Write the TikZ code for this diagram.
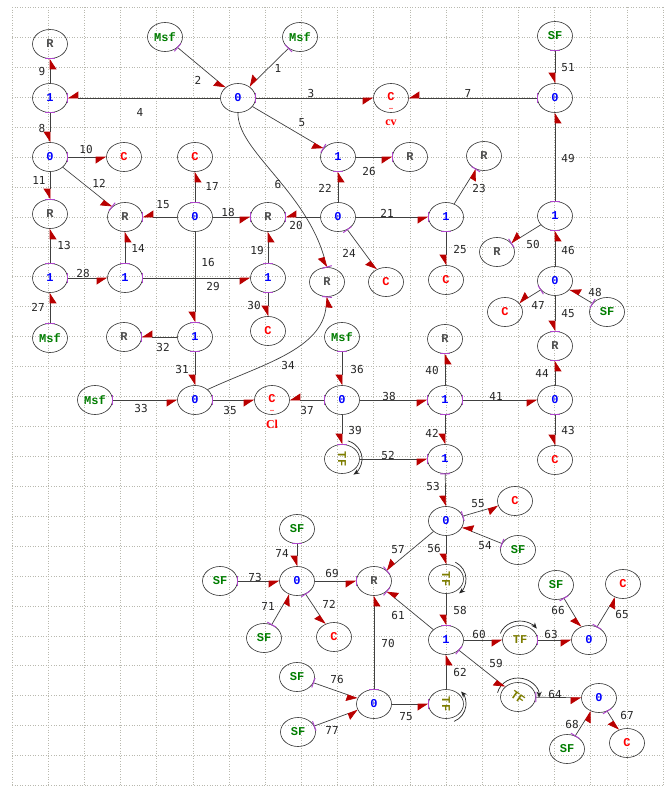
\documentclass[tikz,border=0pt]{standalone}
\usepackage{fontspec}
\setmainfont{Liberation Serif}
\newfontfamily\nodefont{Liberation Mono}
\newfontfamily\numfont{DejaVu Sans Mono}
\usetikzlibrary{arrows.meta,decorations.markings,calc,shapes.geometric}
\definecolor{bondred}{RGB}{185,0,0}
\definecolor{strokecol}{RGB}{175,70,205}
\definecolor{grn}{RGB}{0,125,0}
\definecolor{olv}{RGB}{125,125,0}
\definecolor{gridc}{RGB}{185,185,175}
\tikzset{
 bn/.style={ellipse, draw=black!80, line width=0.6pt, minimum width=35pt, minimum height=29pt, inner sep=0pt, font=\nodefont\bfseries\fontsize{12}{12}\selectfont},
 zn/.style={bn,text=blue},
 rn/.style={bn,text=black!70},
 cn/.style={bn,text=red},
 sn/.style={bn,text=grn},
 tn/.style={bn,text=olv},
 bond/.style={draw=black!75, line width=0.7pt, -{Triangle[harpoon,swap,length=10pt,width=13pt,color=bondred]}},
 csA/.style={postaction={decorate,decoration={markings,mark=at position 0 with {\draw[strokecol,line width=1pt,-] (0,-5pt)--(0,5pt);}}}},
 csB/.style={postaction={decorate,decoration={markings,mark=at position 0.999 with {\draw[strokecol,line width=1pt,-] (0,-5pt)--(0,5pt);}}}},
 lb/.style={font=\numfont\fontsize{11}{11}\selectfont, text=black!85, inner sep=0pt},
 gridl/.style={gridc, dotted, line width=0.6pt},
 tfarc/.style={black!85, line width=0.7pt, -{Stealth[length=6pt,width=5pt]}},
 capname/.style={font=\bfseries\fontsize{12}{12}\selectfont, text=red, inner sep=0pt},
 capdots/.style={font=\bfseries\fontsize{8}{8}\selectfont, text=red, inner sep=0pt},
}
\begin{document}
\begin{tikzpicture}[x=1pt,y=-1pt]
\fill[white] (0,0) rectangle (668,787);
\useasboundingbox (0,0) rectangle (668,787);
% grid
\foreach \i in {0,...,18} \draw[gridl] ({12+36.17*\i},7) -- ({12+36.17*\i},785.5);
\foreach \j in {0,...,26} \draw[gridl] (12,{7.5+29.92*\j}) -- (663,{7.5+29.92*\j});
% nodes
\node[sn] (msfA) at (165,37) {Msf};
\node[sn] (msfB) at (300,37) {Msf};
\node[sn] (sfT) at (555,36) {SF};
\node[rn] (rTL) at (50,44) {R};
\node[zn] (oneA) at (50,98) {1};
\node[zn] (zA) at (238,98) {0};
\node[cn] (cv) at (391,98) {\raisebox{3pt}{C}};
\node[capdots] (cvd) at (391,109) {..};
\node[capname] (cvn) at (391,123) {cv};
\node[zn] (zB) at (555,98) {0};
\node[zn] (zC) at (50,157) {0};
\node[cn] (cA) at (124,157) {C};
\node[cn] (cB) at (195,157) {C};
\node[zn] (oneB) at (338,157) {1};
\node[rn] (rA) at (410,157) {R};
\node[rn] (rB) at (484,156) {R};
\node[rn] (rC) at (50,214) {R};
\node[rn] (rD) at (125,217) {R};
\node[zn] (zD) at (195,217) {0};
\node[rn] (rE) at (268,217) {R};
\node[zn] (zE) at (338,217) {0};
\node[zn] (oneC) at (446,217) {1};
\node[zn] (oneD) at (555,216) {1};
\node[zn] (oneE) at (50,278) {1};
\node[zn] (oneF) at (125,278) {1};
\node[zn] (oneG) at (268,278) {1};
\node[rn] (rF) at (327,282) {R};
\node[cn] (cC) at (386,282) {C};
\node[cn] (cD) at (446,280) {C};
\node[rn] (rG) at (497,252) {R};
\node[zn] (zF) at (555,281) {0};
\node[cn] (cE) at (505,312) {C};
\node[sn] (sfA) at (607,312) {SF};
\node[rn] (rH) at (555,346) {R};
\node[sn] (msfC) at (50,338) {Msf};
\node[rn] (rI) at (124,337) {R};
\node[zn] (oneH) at (195,337) {1};
\node[cn] (cF) at (268,331) {C};
\node[sn] (msfD) at (342,337) {Msf};
\node[rn] (rJ) at (445,339) {R};
\node[sn] (msfE) at (95,400) {Msf};
\node[zn] (zG) at (195,400) {0};
\node[cn] (cl) at (272,400) {\raisebox{3pt}{C}};
\node[capdots] (cld) at (272,411) {..};
\node[capname] (cln) at (272,424) {Cl};
\node[zn] (zH) at (342,400) {0};
\node[zn] (oneI) at (445,400) {1};
\node[zn] (zI) at (555,400) {0};
\node[tn] (tfA) at (342,459) {\rotatebox{-90}{TF}};
\node[zn] (oneJ) at (445,459) {1};
\node[cn] (cG) at (555,460) {C};
\node[zn] (zJ) at (446,521) {0};
\node[cn] (cH) at (515,501) {C};
\node[sn] (sfB) at (518,550) {SF};
\node[sn] (sfC) at (297,529) {SF};
\node[sn] (sfD) at (220,581) {SF};
\node[zn] (zK) at (297,581) {0};
\node[rn] (rK) at (374,581) {R};
\node[tn] (tfB) at (446,579) {\rotatebox{-90}{TF}};
\node[sn] (sfE) at (556,585) {SF};
\node[cn] (cI) at (623,584) {C};
\node[sn] (sfF) at (264,638) {SF};
\node[cn] (cJ) at (334,637) {C};
\node[zn] (oneK) at (446,640) {1};
\node[tn] (tfC) at (520,640) {TF};
\node[zn] (zL) at (589,640) {0};
\node[sn] (sfG) at (297,677) {SF};
\node[zn] (zM) at (374,704) {0};
\node[tn] (tfD) at (446,704) {\rotatebox{-90}{TF}};
\node[tn] (tfE) at (518,697) {\rotatebox{-35}{TF}};
\node[zn] (zN) at (599,698) {0};
\node[sn] (sfH) at (298,732) {SF};
\node[sn] (sfI) at (567,749) {SF};
\node[cn] (cK) at (627,743) {C};
% TF modulation arcs
\draw[tfarc] ($(tfA)+(73:20pt and 19pt)$) arc[start angle=73, end angle=-55, x radius=20pt, y radius=19pt];
\draw[tfarc] ($(tfB)+(62:20pt and 19pt)$) arc[start angle=62, end angle=-49, x radius=20pt, y radius=19pt];
\draw[tfarc] ($(tfC)+(160:21pt and 19pt)$) arc[start angle=160, end angle=37, x radius=21pt, y radius=19pt];
\draw[tfarc] ($(tfD)+(-66:20pt and 19pt)$) arc[start angle=-66, end angle=41, x radius=20pt, y radius=19pt];
\draw[tfarc] ($(tfE)+(167:21pt and 19pt)$) arc[start angle=167, end angle=-2, x radius=21pt, y radius=19pt];
% bonds
\draw[bond,csA] (msfB) -- (zA);
\draw[bond,csA] (msfA) -- (zA);
\draw[bond,csA] (zA) -- (cv);
\draw[bond,csB] (zA) -- (oneA);
\draw[bond,csB] (zA) -- (oneB);
\draw[bond,csB] (zA.south) .. controls (237,150) and (305,190) .. (rF.north);
\draw[bond,csA] (zB) -- (cv);
\draw[bond,csA] (oneA) -- (zC);
\draw[bond,csB] (oneA) -- (rTL);
\draw[bond,csA] (zC) -- (cA);
\draw[bond,csB] (zC) -- (rC);
\draw[bond,csB] (zC) -- (rD);
\draw[bond,csA] (oneE) -- (rC);
\draw[bond,csA] (oneF) -- (rD);
\draw[bond,csB] (zD) -- (rD);
\draw[bond,csB] (zD) -- (oneH);
\draw[bond,csA] (zD) -- (cB);
\draw[bond,csB] (zD) -- (rE);
\draw[bond,csA] (oneG) -- (rE);
\draw[bond,csB] (zE) -- (rE);
\draw[bond,csB] (zE) -- (oneC);
\draw[bond,csB] (zE) -- (oneB);
\draw[bond,csB] (oneC) -- (rB);
\draw[bond,csA] (zE) -- (cC);
\draw[bond,csA] (oneC) -- (cD);
\draw[bond,csB] (oneB) -- (rA);
\draw[bond,csA] (msfC) -- (oneE);
\draw[bond,csA] (oneE) -- (oneF);
\draw[bond,csA] (oneF) -- (oneG);
\draw[bond,csA] (oneG) -- (cF);
\draw[bond,csA] (oneH) -- (zG);
\draw[bond,csB] (oneH) -- (rI);
\draw[bond,csA] (msfE) -- (zG);
\draw[bond,csB] (zG.north east) .. controls (260,365) and (322,350) .. (rF.south);
\draw[bond,csA] (zG) -- (cl);
\draw[bond,csA] (msfD) -- (zH);
\draw[bond,csA] (zH) -- (cl);
\draw[bond,csB] (zH) -- (oneI);
\draw[bond,csB] (zH) -- (tfA);
\draw[bond,csB] (oneI) -- (rJ);
\draw[bond,csA] (oneI) -- (zI);
\draw[bond,csA] (oneI) -- (oneJ);
\draw[bond,csA] (zI) -- (cG);
\draw[bond,csB] (zI) -- (rH);
\draw[bond,csB] (zF) -- (rH);
\draw[bond,csB] (zF) -- (oneD);
\draw[bond,csA] (zF) -- (cE);
\draw[bond,csA] (sfA) -- (zF);
\draw[bond,csA] (oneD) -- (zB);
\draw[bond,csB] (oneD) -- (rG);
\draw[bond,csA] (sfT) -- (zB);
\draw[bond,csB] (tfA) -- (oneJ);
\draw[bond,csA] (oneJ) -- (zJ);
\draw[bond,csA] (sfB) -- (zJ);
\draw[bond,csA] (zJ) -- (cH);
\draw[bond] (zJ) -- (tfB);
\draw[bond,csB] (zJ) -- (rK);
\draw[bond,csB] (tfB) -- (oneK);
\draw[bond,csA] (oneK) -- (tfE);
\draw[bond] (oneK) -- (tfC);
\draw[bond,csB] (oneK) -- (rK);
\draw[bond] (tfD) -- (oneK);
\draw[bond,csA] (tfC) -- (zL);
\draw[bond,csA] (tfE) -- (zN);
\draw[bond,csA] (zL) -- (cI);
\draw[bond,csA] (sfE) -- (zL);
\draw[bond,csA] (zN) -- (cK);
\draw[bond,csA] (sfI) -- (zN);
\draw[bond,csB] (zK) -- (rK);
\draw[bond,csA] (zM) -- (rK);
\draw[bond,csA] (sfF) -- (zK);
\draw[bond,csA] (zK) -- (cJ);
\draw[bond,csA] (sfD) -- (zK);
\draw[bond,csA] (sfC) -- (zK);
\draw[bond,csB] (zM) -- (tfD);
\draw[bond,csA] (sfG) -- (zM);
\draw[bond,csA] (sfH) -- (zM);
% bond numbers
\node[lb] (l1) at (278,68) {1};
\node[lb] (l2) at (198,80) {2};
\node[lb] (l3) at (311,93) {3};
\node[lb] (l4) at (140,112) {4};
\node[lb] (l5) at (302,123) {5};
\node[lb] (l6) at (278,184) {6};
\node[lb] (l7) at (468,93) {7};
\node[lb] (l8) at (42,128) {8};
\node[lb] (l9) at (42,71) {9};
\node[lb] (l10) at (86,149) {10};
\node[lb] (l11) at (39,180) {11};
\node[lb] (l12) at (99,183) {12};
\node[lb] (l13) at (64,245) {13};
\node[lb] (l14) at (138,248) {14};
\node[lb] (l15) at (163,205) {15};
\node[lb] (l16) at (208,262) {16};
\node[lb] (l17) at (212,186) {17};
\node[lb] (l18) at (228,212) {18};
\node[lb] (l19) at (257,250) {19};
\node[lb] (l20) at (296,225) {20};
\node[lb] (l21) at (387,213) {21};
\node[lb] (l22) at (325,188) {22};
\node[lb] (l23) at (479,188) {23};
\node[lb] (l24) at (349,253) {24};
\node[lb] (l25) at (460,249) {25};
\node[lb] (l26) at (369,171) {26};
\node[lb] (l27) at (38,307) {27};
\node[lb] (l28) at (83,273) {28};
\node[lb] (l29) at (213,286) {29};
\node[lb] (l30) at (254,305) {30};
\node[lb] (l31) at (182,369) {31};
\node[lb] (l32) at (163,347) {32};
\node[lb] (l33) at (141,408) {33};
\node[lb] (l34) at (288,365) {34};
\node[lb] (l35) at (230,410) {35};
\node[lb] (l36) at (357,369) {36};
\node[lb] (l37) at (307,410) {37};
\node[lb] (l38) at (389,396) {38};
\node[lb] (l39) at (355,430) {39};
\node[lb] (l40) at (432,370) {40};
\node[lb] (l41) at (496,396) {41};
\node[lb] (l42) at (432,433) {42};
\node[lb] (l43) at (568,430) {43};
\node[lb] (l44) at (542,373) {44};
\node[lb] (l45) at (568,314) {45};
\node[lb] (l46) at (568,250) {46};
\node[lb] (l47) at (538,305) {47};
\node[lb] (l48) at (595,292) {48};
\node[lb] (l49) at (568,158) {49};
\node[lb] (l50) at (533,244) {50};
\node[lb] (l51) at (568,68) {51};
\node[lb] (l52) at (388,455) {52};
\node[lb] (l53) at (433,486) {53};
\node[lb] (l54) at (485,546) {54};
\node[lb] (l55) at (478,504) {55};
\node[lb] (l56) at (434,548) {56};
\node[lb] (l57) at (398,550) {57};
\node[lb] (l58) at (460,610) {58};
\node[lb] (l59) at (496,663) {59};
\node[lb] (l60) at (479,634) {60};
\node[lb] (l61) at (398,615) {61};
\node[lb] (l62) at (460,672) {62};
\node[lb] (l63) at (551,634) {63};
\node[lb] (l64) at (555,694) {64};
\node[lb] (l65) at (622,614) {65};
\node[lb] (l66) at (558,610) {66};
\node[lb] (l67) at (627,715) {67};
\node[lb] (l68) at (572,724) {68};
\node[lb] (l69) at (332,573) {69};
\node[lb] (l70) at (388,643) {70};
\node[lb] (l71) at (268,606) {71};
\node[lb] (l72) at (329,604) {72};
\node[lb] (l73) at (255,577) {73};
\node[lb] (l74) at (282,553) {74};
\node[lb] (l75) at (406,717) {75};
\node[lb] (l76) at (337,679) {76};
\node[lb] (l77) at (332,730) {77};
\end{tikzpicture}
\end{document}
